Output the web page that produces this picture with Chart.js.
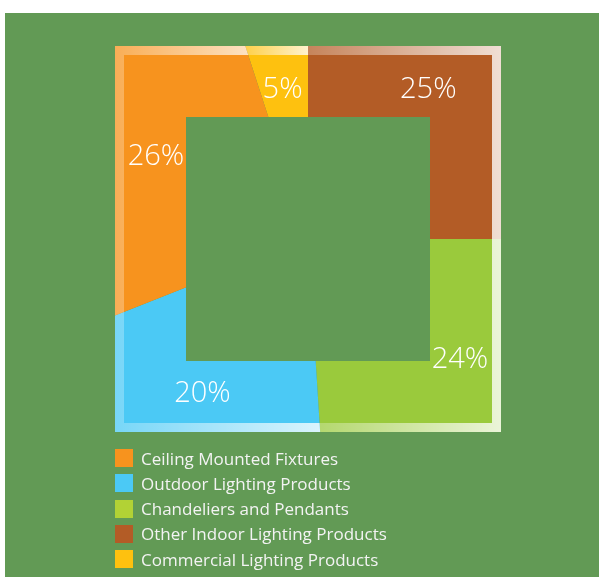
<!DOCTYPE html>
<html>
<head>
<meta charset="utf-8">
<script src="https://cdn.jsdelivr.net/npm/chart.js@4"></script>
<style>
  body { margin: 0; background: #fff; }
  #fondo { position: absolute; left: 5px; top: 13px; width: 594px; height: 564px; background: #629a55; }
  #grafico { position: absolute; left: 0; top: 0; }
  #leyenda { position: absolute; left: 115px; top: 449px; font-family: "Open Sans", sans-serif; font-size: 17px; color: #f3f3f3; }
  .item { display: flex; align-items: center; height: 18px; margin-bottom: 7.25px; white-space: nowrap; }
  .caja { width: 18px; height: 18px; margin-right: 8px; }
</style>
</head>
<body>
<div id="fondo"></div>
<canvas id="grafico" width="599" height="478"></canvas>
<div id="leyenda"></div>
<script>
// categorias en el orden de la leyenda
let categorias = [
  "Ceiling Mounted Fixtures",
  "Outdoor Lighting Products",
  "Chandeliers and Pendants",
  "Other Indoor Lighting Products",
  "Commercial Lighting Products",
];
let porcentajes = [26, 20, 24, 25, 5];
let colores = ["#f7931e", "#4bc9f5", "#9aca3c", "#b35c26", "#fec10f"];
let coloresLeyenda = ["#f7931e", "#4bc9f5", "#b2d235", "#b35c26", "#fec10f"];

// medidas del anillo cuadrado
const EXT = 193;   // medio lado exterior
const INT = 122;   // medio lado del hueco
const BORDE = 9;   // franja clara exterior
const MEDIO = 152; // linea donde van las etiquetas

// el grafico avanza en sentido horario, la leyenda al reves
let etiquetasInv = categorias.slice().reverse();
let valoresInv = porcentajes.slice().reverse();
let coloresInv = colores.slice().reverse();
let total = valoresInv.reduce((a, b) => a + b, 0);

let anilloCuadrado = {
  id: "anilloCuadrado",
  beforeDatasetsDraw(chart) {
    let ctx = chart.ctx;
    let arc0 = chart.getDatasetMeta(0).data[0];
    let cx = arc0.x, cy = arc0.y;
    ctx.save();
    ctx.beginPath();
    ctx.rect(cx - EXT, cy - EXT, 2 * EXT, 2 * EXT);
    ctx.rect(cx - INT, cy - INT, 2 * INT, 2 * INT);
    ctx.clip("evenodd");
  },
  afterDatasetsDraw(chart) {
    let ctx = chart.ctx;
    ctx.restore();
    let arcos = chart.getDatasetMeta(0).data;
    let cx = arcos[0].x, cy = arcos[0].y;

    // recorrer el anillo: extension, centro y lado dominante de cada porcion
    let info = arcos.map(() => ({ minX: 1e9, maxX: -1e9, sx: 0, sy: 0, n: 0, lados: [0, 0, 0, 0] }));
    for (let px = cx - EXT + 1; px < cx + EXT; px += 2) {
      for (let py = cy - EXT + 1; py < cy + EXT; py += 2) {
        let dx = px - cx, dy = py - cy;
        if (Math.abs(dx) < INT && Math.abs(dy) < INT) continue;
        for (let i = 0; i < arcos.length; i++) {
          if (arcos[i].inRange(px, py)) {
            let d = info[i];
            d.minX = Math.min(d.minX, px);
            d.maxX = Math.max(d.maxX, px);
            d.sx += px; d.sy += py; d.n++;
            // 0 arriba, 1 derecha, 2 abajo, 3 izquierda
            let lado = Math.abs(dx) > Math.abs(dy) ? (dx > 0 ? 1 : 3) : (dy > 0 ? 2 : 0);
            d.lados[lado]++;
            break;
          }
        }
      }
    }

    arcos.forEach((arc, i) => {
      let d = info[i];
      // franja exterior aclarada con degradado
      ctx.save();
      ctx.beginPath();
      ctx.rect(cx - EXT, cy - EXT, 2 * EXT, 2 * EXT);
      let e = EXT - BORDE;
      ctx.rect(cx - e, cy - e, 2 * e, 2 * e);
      ctx.clip("evenodd");
      ctx.beginPath();
      ctx.moveTo(cx, cy);
      ctx.arc(cx, cy, EXT * 2, arc.startAngle, arc.endAngle);
      ctx.closePath();
      ctx.clip();
      let g = ctx.createLinearGradient(d.minX, 0, d.maxX, 0);
      g.addColorStop(0, "rgba(255,255,255,0.25)");
      g.addColorStop(1, "rgba(255,255,255,0.8)");
      ctx.fillStyle = g;
      ctx.fillRect(cx - EXT, cy - EXT, 2 * EXT, 2 * EXT);
      ctx.restore();

      // etiqueta de porcentaje sobre el lado con mas superficie
      let gx = d.sx / d.n, gy = d.sy / d.n;
      let lado = d.lados.indexOf(Math.max(...d.lados));
      let x = gx, y = gy;
      if (lado === 0) y = cy - MEDIO;
      if (lado === 2) y = cy + MEDIO;
      if (lado === 1) x = cx + MEDIO;
      if (lado === 3) x = cx - MEDIO;
      ctx.save();
      ctx.fillStyle = "#ffffff";
      ctx.font = '300 29px "Open Sans"';
      ctx.textAlign = "center";
      ctx.textBaseline = "alphabetic";
      ctx.fillText(valoresInv[i] + "%", x, y + 10.5);
      ctx.restore();
    });
  },
};

let plotRef = document.getElementById("grafico");
let config = {
  type: "doughnut",
  data: {
    labels: etiquetasInv,
    datasets: [
      {
        data: valoresInv,
        backgroundColor: coloresInv,
        borderWidth: 0,
      },
    ],
  },
  options: {
    responsive: false,
    animation: false,
    events: [],
    radius: 320,
    cutout: 0,
    rotation: (-valoresInv[0] / total) * 360,
    layout: { padding: { left: 17 } },
    plugins: {
      legend: { display: false },
      tooltip: { enabled: false },
    },
  },
  plugins: [anilloCuadrado],
};
let chart1 = new Chart(plotRef, config);

// leyenda en html
let leyenda = document.getElementById("leyenda");
categorias.forEach((nombre, i) => {
  let item = document.createElement("div");
  item.className = "item";
  item.innerHTML = `<span class="caja" style="background:${coloresLeyenda[i]}"></span><span>${nombre}</span>`;
  leyenda.appendChild(item);
});
</script>
</body>
</html>
